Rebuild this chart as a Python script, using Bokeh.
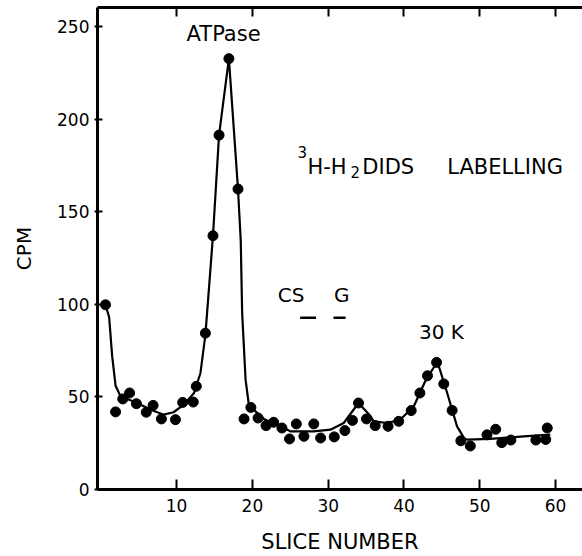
from bokeh.plotting import figure
from bokeh.models import Range1d, FixedTicker, LinearAxis, Label
from bokeh.embed import file_html
from bokeh.resources import INLINE

# measured points (slice number, CPM)
slice_x = [0.62, 1.95, 2.9, 3.8, 4.7, 6.0, 6.9, 8.0, 9.85, 10.8, 12.2, 12.6, 13.8,
           14.8, 15.6, 16.9, 18.1, 18.9, 19.8, 20.75, 21.8, 22.8, 23.9, 24.9, 25.8,
           26.8, 28.1, 29.0, 30.8, 32.2, 33.2, 34.0, 35.05, 36.2, 37.9, 39.3, 40.95,
           42.1, 43.1, 44.3, 45.25, 46.35, 47.5, 48.75, 50.95, 52.1, 52.9, 54.1,
           57.4, 58.7, 58.9]
cpm = [99.7, 41.9, 48.9, 52.1, 46.3, 41.7, 45.4, 38.1, 37.7, 47.0, 47.2, 55.7, 84.4,
       137.0, 191.3, 232.6, 162.2, 38.1, 44.3, 38.6, 34.5, 36.3, 33.2, 27.3, 35.4,
       28.7, 35.4, 27.8, 28.4, 31.8, 37.3, 46.7, 38.1, 34.5, 34.1, 36.8, 42.6,
       52.1, 61.4, 68.6, 57.0, 42.7, 26.3, 23.5, 29.5, 32.5, 25.3, 26.7,
       26.7, 27.0, 33.2]

# hand-drawn fitted curve
fit_x = [0.6, 1.1, 1.5, 1.95, 2.6, 4.8, 6.6, 8.3, 9.6, 10.95, 12.3, 13.15, 13.8,
         14.8, 15.6, 16.9, 18.1, 18.46, 18.65, 19.1, 19.5, 19.8, 21.5, 23.7, 25.0,
         28.1, 30.3, 32.05, 34.0, 35.6, 36.0, 37.8, 39.5, 41.3, 42.8, 44.4, 45.7,
         47.0, 47.9, 48.3, 51.4, 55.8, 59.3]
fit_y = [100.0, 93.0, 72.0, 56.0, 50.3, 46.7, 43.1, 40.4, 41.7, 45.8, 52.1, 62.9, 83.5,
         137.0, 191.3, 232.6, 162.2, 134.7, 95.2, 59.3, 46.7, 44.5, 38.1, 34.1, 31.4,
         31.4, 32.3, 35.9, 46.7, 39.5, 36.8, 35.9, 37.7, 44.9, 58.4, 69.1, 52.1,
         34.1, 27.9, 26.9, 27.3, 28.7, 29.6]

marker_names = ["CS", "G"]
marker_x0 = [26.3, 30.7]
marker_x1 = [28.4, 32.3]
marker_y = [92.7, 92.7]

x_ticks = [10, 20, 30, 40, 50, 60]
y_ticks = [0, 50, 100, 150, 200, 250]

FONT = "DejaVu Sans"

p = figure(width=582, height=556,
           x_range=Range1d(-0.435, 63.55), y_range=Range1d(0, 260.2),
           output_backend="svg", toolbar_location=None,
           min_border_left=97, min_border_right=0, min_border_top=7,
           min_border_bottom=66)
p.outline_line_color = None
p.xgrid.visible = False
p.ygrid.visible = False
p.background_fill_color = "white"
p.border_fill_color = "white"

for ax in (p.xaxis[0], p.yaxis[0]):
    ax.axis_line_width = 3
    ax.axis_line_color = "black"
    ax.major_tick_line_width = 2
    ax.major_tick_line_color = "black"
    ax.minor_tick_line_color = None
    ax.major_label_text_font = FONT
    ax.major_label_text_font_size = "17px"
    ax.major_label_text_color = "black"
    ax.axis_label_text_font = FONT
    ax.axis_label_text_font_style = "normal"
    ax.axis_label_text_color = "black"

p.xaxis[0].ticker = FixedTicker(ticks=x_ticks)
p.xaxis[0].major_tick_in = 10
p.xaxis[0].major_tick_out = 0
p.xaxis[0].major_label_standoff = 9
p.xaxis[0].axis_label = "SLICE NUMBER"
p.xaxis[0].axis_label_text_font_size = "21px"
p.xaxis[0].axis_label_standoff = 15

p.yaxis[0].ticker = FixedTicker(ticks=y_ticks)
p.yaxis[0].major_tick_in = 5
p.yaxis[0].major_tick_out = 3
p.yaxis[0].major_label_standoff = 5
p.yaxis[0].axis_label = "CPM"
p.yaxis[0].axis_label_text_font_size = "20px"
p.yaxis[0].axis_label_standoff = 18

top = LinearAxis(ticker=FixedTicker(ticks=x_ticks),
                 major_label_overrides={t: "" for t in x_ticks},
                 major_label_standoff=0, major_tick_in=9, major_tick_out=0,
                 axis_line_width=3, major_tick_line_width=2,
                 minor_tick_line_color=None)
p.add_layout(top, "above")

p.line(fit_x, fit_y, line_width=2.2, color="black")
p.scatter(slice_x, cpm, size=10, color="black")
p.segment(x0=marker_x0, y0=marker_y, x1=marker_x1, y1=marker_y,
          line_width=2.5, color="black")

def lab(x, y, text, size, align="center", baseline="middle"):
    p.add_layout(Label(x=x, y=y, text=text, text_font=FONT, text_font_size=size,
                       text_align=align, text_baseline=baseline,
                       text_color="black"))

lab(16.2, 245.7, "ATPase", "21px")
lab(25.1, 105.1, marker_names[0], "20px")
lab(31.8, 105.1, marker_names[1], "20px")
lab(44.95, 85.1, "30 K", "20px")
# 3H-H2DIDS LABELLING
lab(25.95, 182.1, "3", "15px", align="left", baseline="alphabetic")
lab(27.27, 174.0, "H-H", "21px", align="left", baseline="alphabetic")
lab(32.94, 171.3, "2", "15px", align="left", baseline="alphabetic")
lab(34.5, 174.0, "DIDS", "21px", align="left", baseline="alphabetic")
lab(45.7, 174.0, "LABELLING", "21px", align="left", baseline="alphabetic")

open("out.html", "w").write(file_html(p, INLINE))
